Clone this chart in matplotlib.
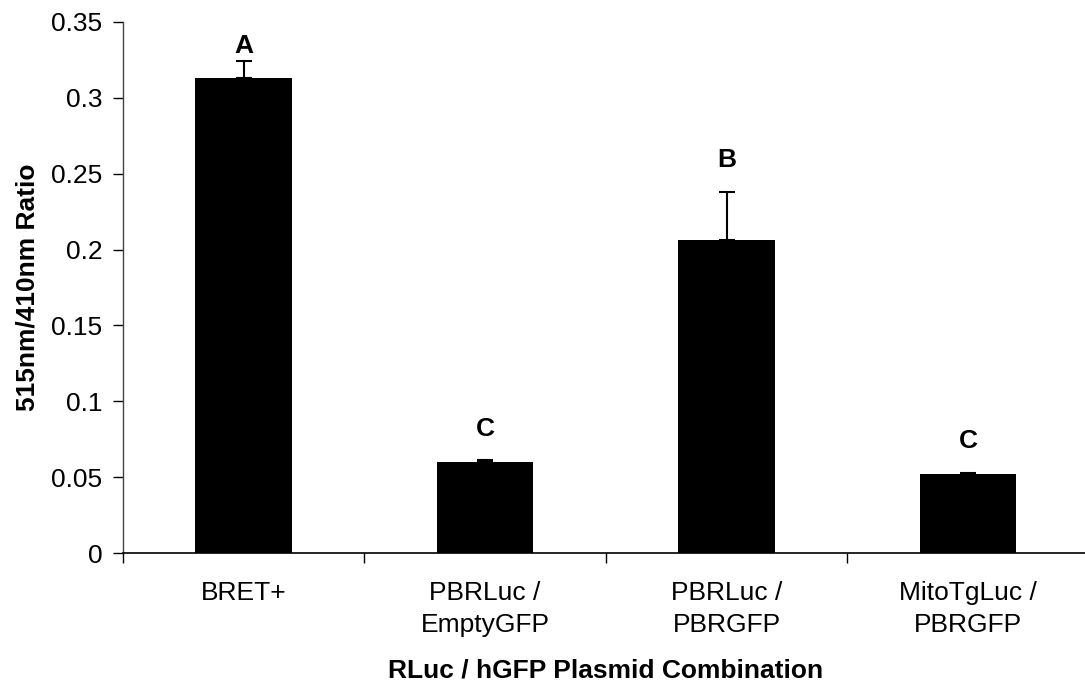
from matplotlib import pyplot as plt
import numpy as np

categories = ['BRET+', 'PBRLuc /\nEmptyGFP', 'PBRLuc /\nPBRGFP', 'MitoTgLuc /\nPBRGFP']
ratios = [0.313, 0.060, 0.206, 0.052]
errors = [0.011, 0.001, 0.032, 0.001]
letters = ['A', 'C', 'B', 'C']
y_ticks = [0, 0.05, 0.1, 0.15, 0.2, 0.25, 0.3, 0.35]
y_tick_labels = ['0', '0.05', '0.1', '0.15', '0.2', '0.25', '0.3', '0.35']

def main():
    plt.rcParams['font.family'] = ['Liberation Sans', 'DejaVu Sans']

    fig = plt.figure(figsize=(10.85, 6.87), dpi=100)
    ax = fig.add_axes([0.1134, 0.195, 0.89, 0.773])

    x = np.arange(len(categories))
    ax.bar(x, ratios, width=0.4, color='black', zorder=2)
    ax.errorbar(x, ratios, yerr=[np.zeros(len(errors)), errors], fmt='none',
                ecolor='black', elinewidth=1.5, capsize=6, capthick=1.5, zorder=1)

    for xi, val, err, letter in zip(x, ratios, errors, letters):
        ly = min(val + err + 0.021, 0.334)
        ax.text(xi, ly, letter, ha='center', va='center', fontsize=19, fontweight='bold')

    ax.set_xlim(-0.5, len(categories) - 0.5)
    ax.set_ylim(0, 0.35)
    ax.set_yticks(y_ticks)
    ax.set_yticklabels(y_tick_labels)
    ax.set_xticks(x)
    ax.set_xticklabels(categories, linespacing=1.45)
    ax.set_xticks(np.arange(len(categories) + 1) - 0.5, minor=True)
    ax.tick_params(axis='x', which='major', length=0, pad=20, labelsize=19)
    ax.tick_params(axis='x', which='minor', length=7, width=1, direction='out')
    ax.tick_params(axis='y', length=7, width=1, direction='out', pad=8, labelsize=19)

    for side in ('top', 'right'):
        ax.spines[side].set_visible(False)
    ax.spines['left'].set_color('#444444')
    ax.spines['left'].set_linewidth(1)
    ax.spines['bottom'].set_linewidth(1.2)

    ax.set_ylabel('515nm/410nm Ratio', fontsize=19, fontweight='bold', labelpad=8)
    ax.set_xlabel('RLuc / hGFP Plasmid Combination', fontsize=19, fontweight='bold', labelpad=15)

    fig.savefig('out.png', dpi=100)

if __name__ == '__main__':
    main()
